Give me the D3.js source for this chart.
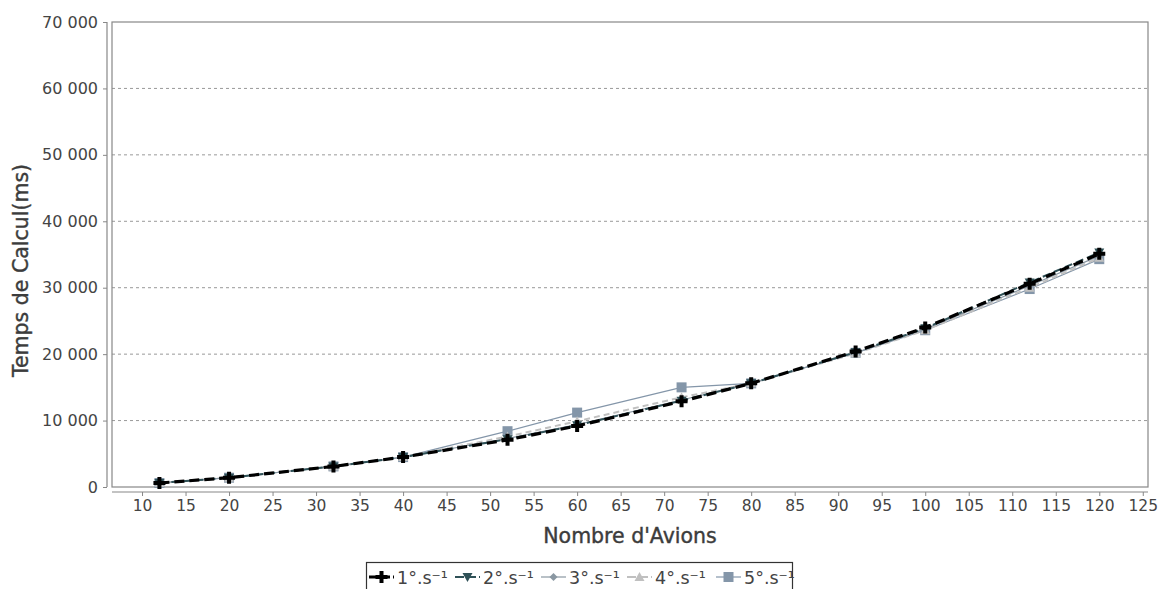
<!DOCTYPE html>
<html>
<head>
<meta charset="utf-8">
<script src="https://cdn.jsdelivr.net/npm/d3@7"></script>
<style>
  body { margin: 0; background: #fff; }
  text { font-family: "DejaVu Sans", Tahoma, sans-serif; }
</style>
</head>
<body>
<div class="myChart"></div>
<script>
// Data
var avions = [12, 20, 32, 40, 52, 60, 72, 80, 92, 100, 112, 120];
var s1 = [600, 1400, 3100, 4500, 7100, 9200, 12900, 15600, 20400, 24000, 30600, 35100];
var s2 = [600, 1400, 3100, 4500, 7200, 9300, 13000, 15600, 20300, 23900, 30800, 35300];
var s3 = [600, 1400, 3100, 4500, 7300, 9400, 13100, 15600, 20200, 23800, 30300, 34800];
var s4 = [600, 1400, 3100, 4500, 7600, 9900, 13500, 15600, 20100, 23600, 30000, 34500];
var s5 = [600, 1400, 3100, 4500, 8400, 11200, 15000, 15600, 20200, 23600, 29800, 34300];
var seriesNames = ["1°.s⁻¹", "2°.s⁻¹", "3°.s⁻¹", "4°.s⁻¹", "5°.s⁻¹"];
var xTicks = d3.range(10, 126, 5);
var yTicks = d3.range(0, 70001, 10000);

function run() {
    var width = 1160, height = 589;
    var plot = { left: 112, right: 1148, top: 22, bottom: 487 };

    var series = [
        { name: seriesNames[0], values: s1, color: "#000000", width: 3.2, dash: "10,5", marker: "plus" },
        { name: seriesNames[1], values: s2, color: "#2f5157", width: 2, dash: "8,4", marker: "tridown" },
        { name: seriesNames[2], values: s3, color: "#8a97a2", width: 1.2, dash: null, marker: "diamond" },
        { name: seriesNames[3], values: s4, color: "#c0c0c0", width: 2, dash: "6,4", marker: "triup" },
        { name: seriesNames[4], values: s5, color: "#8496a9", width: 1.2, dash: null, marker: "square" }
    ];

    var x = d3.scaleLinear().domain([6.55, 125.6]).range([plot.left, plot.right]);
    var y = d3.scaleLinear().domain([0, 70000]).range([plot.bottom, plot.top]);

    var svg = d3.select(".myChart").append("svg")
        .attr("width", width)
        .attr("height", height)
        .style("display", "block");

    // gridlines
    svg.append("g").selectAll("line")
        .data(yTicks.filter(function(d) { return d > 0 && d < 70000; }))
        .enter().append("line")
        .attr("x1", plot.left).attr("x2", plot.right)
        .attr("y1", function(d) { return y(d); })
        .attr("y2", function(d) { return y(d); })
        .attr("stroke", "#999")
        .attr("stroke-width", 1)
        .attr("stroke-dasharray", "3,3");

    // plot border
    svg.append("rect")
        .attr("x", plot.left).attr("y", plot.top)
        .attr("width", plot.right - plot.left)
        .attr("height", plot.bottom - plot.top)
        .attr("fill", "none")
        .attr("stroke", "#888")
        .attr("stroke-width", 1.2);

    // y axis
    var yAxis = d3.axisLeft(y).tickValues(yTicks).tickSize(4).tickPadding(5)
        .tickFormat(function(d) { return d3.format(",")(d).replace(/,/g, " "); });
    var gy = svg.append("g").attr("transform", "translate(107,0)").call(yAxis);
    gy.select(".domain").attr("stroke", "#888").attr("stroke-width", 1.2).attr("d", "M0," + plot.top + "V" + plot.bottom);
    gy.selectAll(".tick line").attr("stroke", "#888");
    gy.selectAll("text").attr("fill", "#444").style("font-size", "16px");

    // x axis
    var xAxis = d3.axisBottom(x).tickValues(xTicks).tickSize(4).tickPadding(4);
    var gx = svg.append("g").attr("transform", "translate(0,492)").call(xAxis);
    gx.select(".domain").attr("stroke", "#888").attr("stroke-width", 1.2).attr("d", "M" + plot.left + ",0H" + plot.right);
    gx.selectAll(".tick line").attr("stroke", "#888");
    gx.selectAll("text").attr("fill", "#444").style("font-size", "15.5px");

    // axis titles
    svg.append("text")
        .attr("x", (plot.left + plot.right) / 2)
        .attr("y", 543)
        .attr("text-anchor", "middle")
        .attr("fill", "#3c3c3c")
        .attr("stroke", "#3c3c3c")
        .attr("stroke-width", 0.4)
        .style("font-size", "20.5px")
        .text("Nombre d'Avions");
    svg.append("text")
        .attr("transform", "translate(28," + ((plot.top + plot.bottom) / 2 + 16) + ") rotate(-90)")
        .attr("text-anchor", "middle")
        .attr("fill", "#3c3c3c")
        .attr("stroke", "#3c3c3c")
        .attr("stroke-width", 0.4)
        .style("font-size", "20.5px")
        .text("Temps de Calcul(ms)");

    // markers
    function drawMarker(g, type, color, cx, cy) {
        if (type === "plus") {
            g.append("path")
                .attr("d", "M" + (cx - 6) + "," + cy + "H" + (cx + 6) + "M" + cx + "," + (cy - 6) + "V" + (cy + 6))
                .attr("stroke", color).attr("stroke-width", 4);
        } else if (type === "square") {
            g.append("rect").attr("x", cx - 5).attr("y", cy - 5).attr("width", 10).attr("height", 10).attr("fill", color);
        } else if (type === "diamond") {
            g.append("path").attr("d", "M" + cx + "," + (cy - 4) + "L" + (cx + 4) + "," + cy + "L" + cx + "," + (cy + 4) + "L" + (cx - 4) + "," + cy + "Z").attr("fill", color);
        } else if (type === "triup") {
            g.append("path").attr("d", "M" + cx + "," + (cy - 5) + "L" + (cx + 5) + "," + (cy + 4) + "L" + (cx - 5) + "," + (cy + 4) + "Z").attr("fill", color);
        } else if (type === "tridown") {
            g.append("path").attr("d", "M" + (cx - 5) + "," + (cy - 4) + "L" + (cx + 5) + "," + (cy - 4) + "L" + cx + "," + (cy + 5) + "Z").attr("fill", color);
        }
    }

    var line = d3.line()
        .x(function(d) { return x(d[0]); })
        .y(function(d) { return y(d[1]); });

    // draw last series first so series 1 sits on top
    series.slice().reverse().forEach(function(s) {
        var pts = avions.map(function(a, i) { return [a, s.values[i]]; });
        var g = svg.append("g");
        g.append("path")
            .datum(pts)
            .attr("d", line)
            .attr("fill", "none")
            .attr("stroke", s.color)
            .attr("stroke-width", s.width)
            .attr("stroke-dasharray", s.dash);
        pts.forEach(function(p) { drawMarker(g, s.marker, s.color, x(p[0]), y(p[1])); });
    });

    // legend
    var lg = svg.append("g");
    lg.append("rect")
        .attr("x", 366.5).attr("y", 562.5)
        .attr("width", 426).attr("height", 40)
        .attr("fill", "#fff")
        .attr("stroke", "#333")
        .attr("stroke-width", 1.2);
    var itemX = [369, 455, 541, 627, 716];
    series.forEach(function(s, i) {
        var ix = itemX[i], iy = 577;
        lg.append("line")
            .attr("x1", ix).attr("x2", ix + 25)
            .attr("y1", iy).attr("y2", iy)
            .attr("stroke", s.color)
            .attr("stroke-width", s.width)
            .attr("stroke-dasharray", s.dash ? "9,3" : null);
        drawMarker(lg, s.marker, s.color, ix + 12.5, iy);
        lg.append("text")
            .attr("x", ix + 28).attr("y", iy + 7)
            .attr("fill", "#444")
            .style("font-size", "17.5px")
            .text(s.name);
    });
}
run();
</script>
</body>
</html>
